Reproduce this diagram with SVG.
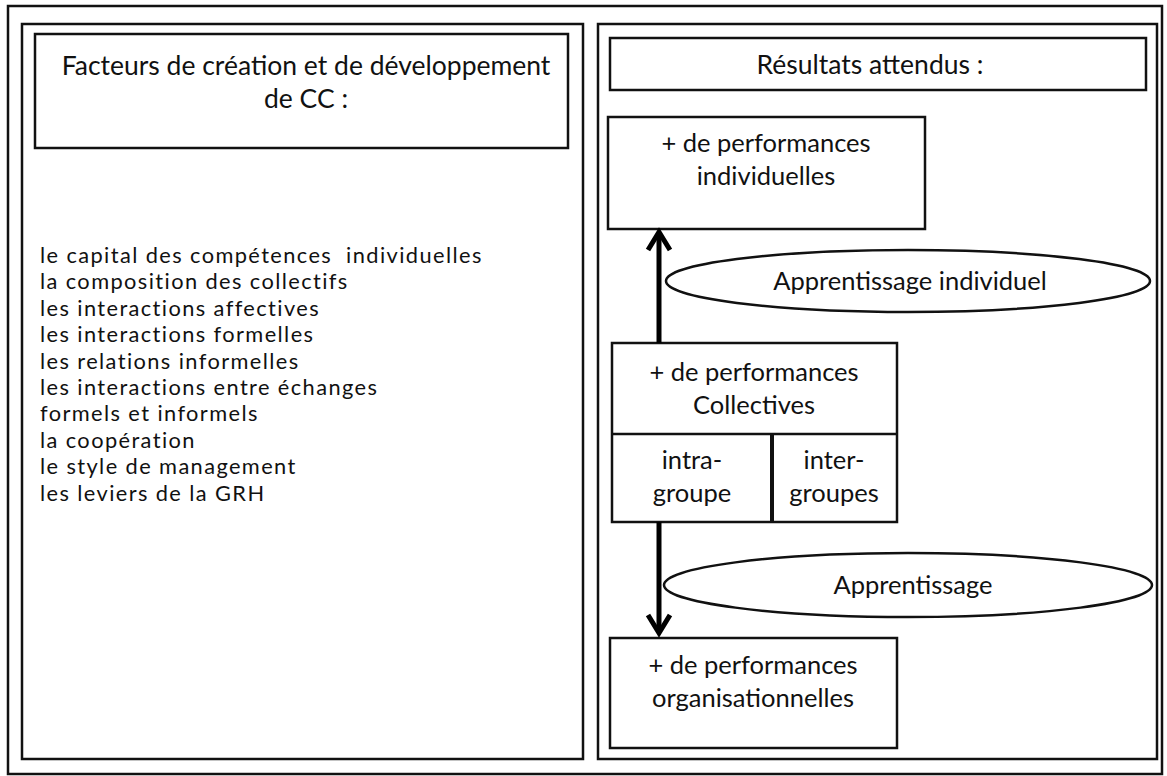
<svg xmlns="http://www.w3.org/2000/svg" width="1167" height="776" viewBox="0 0 1167 776">
<defs>
<style>
.frame{fill:none;stroke:#111;stroke-width:2.5}
.box{fill:#fff;stroke:#111;stroke-width:2.5}
.t{font-family:Lato,"Open Sans","Liberation Sans",sans-serif;font-size:25.5px;fill:#111}
.big{font-size:26.5px}
.list{font-size:21.8px;letter-spacing:1.4px}
.c{text-anchor:middle}
.arrow{stroke:#000;stroke-width:5;fill:none}
.head{fill:none;stroke:#000;stroke-width:5;stroke-linejoin:miter}
</style>
</defs>
<rect width="1167" height="776" fill="#fff"/>
<rect class="frame" x="8" y="6" width="1154" height="768" stroke="#333"/>
<g id="left-panel">
<rect class="frame" x="22" y="24" width="561" height="735"/>
</g>
<g id="title-left">
<rect class="box" x="35" y="34" width="533" height="114"/>
<text class="t big c" x="306" y="75">Facteurs de création et de développement</text>
<text class="t big c" x="306" y="108">de CC :</text>
</g>
<g id="factors-list">
<text class="t list" x="40" y="263" xml:space="preserve">le capital des compétences  individuelles</text>
<text class="t list" x="40" y="289.4">la composition des collectifs</text>
<text class="t list" x="40" y="315.8">les interactions affectives</text>
<text class="t list" x="40" y="342.2">les interactions formelles</text>
<text class="t list" x="40" y="368.6">les relations informelles</text>
<text class="t list" x="40" y="395">les interactions entre échanges</text>
<text class="t list" x="40" y="421.4">formels et informels</text>
<text class="t list" x="40" y="447.8">la coopération</text>
<text class="t list" x="40" y="474.2">le style de management</text>
<text class="t list" x="40" y="500.6">les leviers de la GRH</text>
</g>
<g id="right-panel">
<rect class="frame" x="598" y="24" width="559" height="735"/>
</g>
<g id="title-right">
<rect class="box" x="610" y="38" width="536" height="52"/>
<text class="t big c" x="870" y="74">Résultats attendus :</text>
</g>
<g id="perf-individuelles">
<rect class="box" x="608" y="117" width="317" height="112"/>
<text class="t c" x="766" y="152">+ de performances</text>
<text class="t c" x="766" y="185">individuelles</text>
</g>
<g id="apprentissage-individuel">
<ellipse class="box" cx="908" cy="281" rx="242" ry="31"/>
<text class="t c" x="910" y="290">Apprentissage individuel</text>
</g>
<g id="perf-collectives">
<rect class="box" x="612" y="343" width="285" height="179"/>
<line x1="612" y1="434" x2="897" y2="434" stroke="#111" stroke-width="2.5"/>
<line x1="772" y1="434" x2="772" y2="522" stroke="#111" stroke-width="4"/>
<text class="t c" x="754" y="381">+ de performances</text>
<text class="t c" x="754" y="414">Collectives</text>
<text class="t c" x="692" y="469">intra-</text>
<text class="t c" x="692" y="502">groupe</text>
<text class="t c" x="834" y="469">inter-</text>
<text class="t c" x="834" y="502">groupes</text>
</g>
<g id="apprentissage">
<ellipse class="box" cx="908" cy="585" rx="244" ry="32"/>
<text class="t c" x="913" y="594">Apprentissage</text>
</g>
<g id="perf-organisationnelles">
<rect class="box" x="610" y="638" width="287" height="110"/>
<text class="t c" x="753" y="674">+ de performances</text>
<text class="t c" x="753" y="707">organisationnelles</text>
</g>
<g id="connectors">
<line class="arrow" x1="659" y1="343" x2="659" y2="233"/>
<path class="head" d="M648,250 L659,232 L670,250"/>
<line class="arrow" x1="659" y1="522" x2="659" y2="632"/>
<path class="head" d="M648,615 L659,633 L670,615"/>
</g>
</svg>
